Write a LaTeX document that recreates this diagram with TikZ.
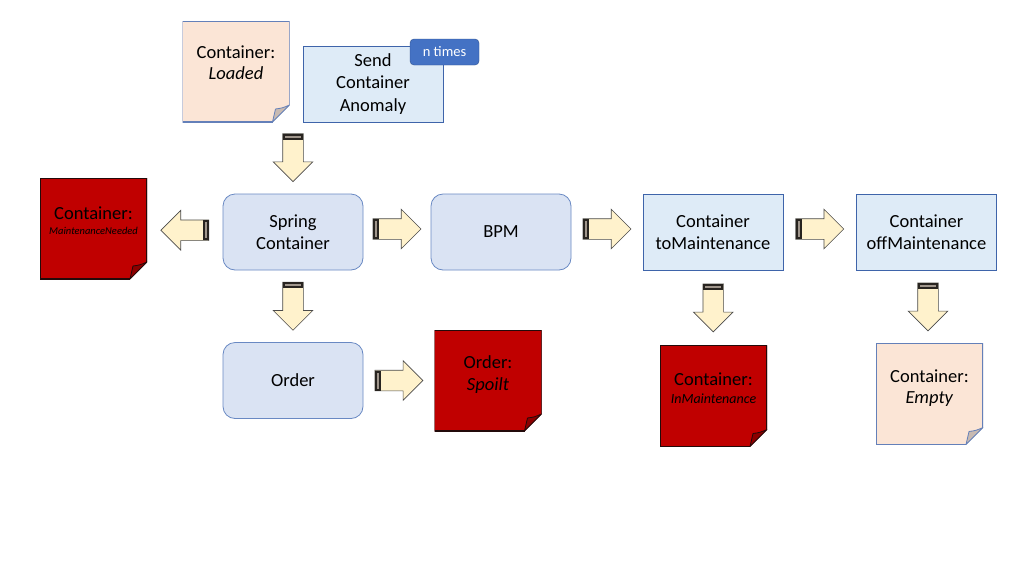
\documentclass[tikz,border=0pt]{standalone}
\usepackage{fontspec}
\setmainfont{Carlito}
\definecolor{notepeach}{RGB}{251,229,214}
\definecolor{noteedge}{RGB}{100,128,185}
\definecolor{notered}{RGB}{192,0,0}
\definecolor{redfold}{RGB}{140,0,0}
\definecolor{rededge}{RGB}{35,10,10}
\definecolor{peachfold}{RGB}{200,186,178}
\definecolor{taskblue}{RGB}{222,235,247}
\definecolor{taskedge}{RGB}{62,100,170}
\definecolor{svcblue}{RGB}{218,227,243}
\definecolor{svcedge}{RGB}{105,137,195}
\definecolor{badgeblue}{RGB}{68,114,196}
\definecolor{badgeedge}{RGB}{47,82,143}
\definecolor{flowcream}{RGB}{255,242,204}
\definecolor{flowedge}{RGB}{75,75,75}
\definecolor{bandedge}{RGB}{40,36,32}
\definecolor{bandgray}{RGB}{160,150,140}
\usetikzlibrary{shapes.arrows,calc,positioning}

\tikzset{
  svc/.style={draw=svcedge, fill=svcblue, rounded corners=12pt, line width=0.8pt,
    minimum width=140pt, minimum height=76pt, align=center},
  task/.style={draw=taskedge, fill=taskblue, line width=0.8pt,
    minimum width=140pt, minimum height=76pt, align=center},
  badge/.style={draw=badgeedge, fill=badgeblue, rounded corners=4pt, text=white,
    font=\fontsize{14.5}{17}\selectfont, minimum width=69pt, minimum height=26pt, inner sep=0pt},
  note/.style n args={3}{minimum width=107pt, minimum height=101pt, inner sep=0pt,
    path picture={
      \coordinate (se) at (path picture bounding box.south east);
      \coordinate (ne) at (path picture bounding box.north east);
      \coordinate (nw) at (path picture bounding box.north west);
      \coordinate (sw) at (path picture bounding box.south west);
      \fill[#1] (nw) -- (ne) -- ([yshift=17pt]se) -- ([xshift=-17pt]se) -- (sw) -- cycle;
      \draw[#2, line width=1.6pt] ([yshift=17pt]se) -- (ne) -- (nw) -- (sw) -- ([xshift=-17pt]se);
      \filldraw[fill=#3, draw=#2, line width=0.8pt, line join=round] ([yshift=17pt]se)
        .. controls ([shift={(-7pt,14pt)}]se) .. ([shift={(-14pt,13pt)}]se)
        .. controls ([shift={(-15pt,6pt)}]se) .. ([xshift=-17pt]se) -- cycle;
    }},
  notetxt/.style={align=center, inner sep=0pt},
  flow/.style={single arrow, draw=flowedge, fill=flowcream, line width=0.6pt,
    inner xsep=0pt, inner ysep=10pt, minimum height=48pt, minimum width=39pt,
    single arrow head extend=9.5pt, single arrow tip angle=90, outer sep=0pt},
  band/.style={draw=bandedge, fill=bandgray, line width=2pt, inner sep=0pt,
    minimum width=4pt, minimum height=18pt}
}

\begin{document}
\begin{tikzpicture}[x=1pt, y=-1pt, font=\fontsize{18.5}{22.5}\selectfont]
\fill[white] (0,0) rectangle (1024,576);
% Anomaly input
\node[note={notepeach}{noteedge}{peachfold}] (loaded) at (236,71.5) {};
\node[notetxt] (loadedtxt) at ([yshift=9pt]loaded.center) {Container:\\[-1.5pt]\textit{Loaded}};
\node[task] (anomaly) at (373,84) {Send\\Container\\Anomaly};
\node[badge] (ntimes) at (444.5,52) {n times};
% Services and steps
\node[svc] (spring) at (293,232) {Spring\\Container};
\node[svc] (bpm) at (501,232) {BPM};
\node[svc] (order) at (293,380.5) {Order};
\node[task] (tomaint) at (713,232) {Container\\toMaintenance};
\node[task] (offmaint) at (926.5,232) {Container\\offMaintenance};
% Resulting states
\node[note={notered}{rededge}{redfold}] (needed) at (93.5,228.5) {};
\node[notetxt] (neededtxt) at ([yshift=8pt]needed.center)
  {Container:\\[-7.5pt]{\fontsize{10.5}{12}\selectfont\itshape MaintenanceNeeded}};
\node[note={notered}{rededge}{redfold}] (spoilt) at (488,380.5) {};
\node[notetxt] (spoilttxt) at ([yshift=6pt]spoilt.center) {Order:\\\textit{Spoilt}};
\node[note={notered}{rededge}{redfold}] (inmaint) at (713.5,396) {};
\node[notetxt] (inmainttxt) at ([yshift=8pt]inmaint.center)
  {Container:\\[-4.5pt]{\fontsize{14}{16}\selectfont\itshape InMaintenance}};
\node[note={notepeach}{noteedge}{peachfold}] (empty) at (929.5,394) {};
\node[notetxt] (emptytxt) at ([yshift=6pt]empty.center) {Container:\\[-1.5pt]\textit{Empty}};
% Block arrows (midpoints between boxes)
\coordinate (f1) at ($(spring.north)+(0,-36)$);
\coordinate (f2) at ($(spring.west)!.5!(needed.east)$);
\coordinate (f3) at ($(spring.east)!.5!(bpm.west)+(0,-3)$);
\coordinate (f4) at ($(bpm.east)!.5!(tomaint.west)+(0,-3)$);
\coordinate (f5) at ($(tomaint.east)!.5!(offmaint.west)+(0,-3)$);
\coordinate (f6) at ($(spring.south)!.5!(order.north)$);
\coordinate (f7) at ($(order.east)!.5!(spoilt.west)$);
\coordinate (f8) at ($(tomaint.south)!.5!(inmaint.north)$);
\coordinate (f9) at ($(offmaint.south)!.5!(empty.north)$);
\foreach \f/\ang in {f1/-90, f2/180, f3/0, f4/0, f5/0, f6/-90, f7/0, f8/-90, f9/-90}{
  \node[flow, rotate=\ang, anchor=tail] (\f-arr) at ([shift={(\ang+180:24pt)}]\f) {};
  \node[band, rotate=\ang, anchor=west] (\f-band) at (\f-arr.tail) {};
}
\end{tikzpicture}
\end{document}
